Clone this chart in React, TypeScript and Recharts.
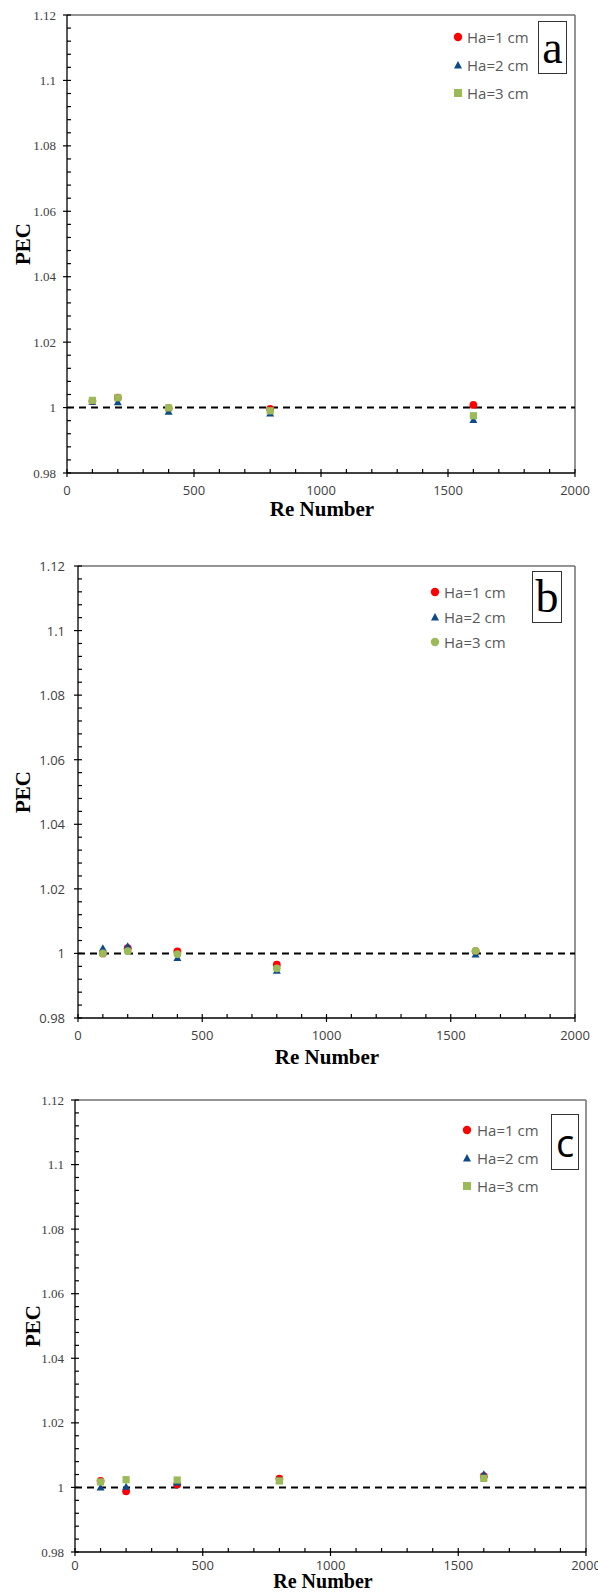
import React from 'react';
import { ScatterChart, Scatter, XAxis, YAxis, ReferenceLine } from 'recharts';

const RE_NUMBERS = [100, 200, 400, 800, 1600];

const A_HA1 = [1.002, 1.003, 0.9998, 0.9996, 1.0008];
const A_HA2 = [1.0018, 1.0016, 0.9987, 0.9982, 0.9962];
const A_HA3 = [1.0022, 1.003, 0.9999, 0.999, 0.9975];

const B_HA1 = [1.0, 1.0016, 1.0006, 0.9965, 1.0007];
const B_HA2 = [1.0016, 1.0022, 0.9986, 0.9946, 0.9997];
const B_HA3 = [1.0, 1.0007, 0.9998, 0.9954, 1.0008];

const C_HA1 = [1.002, 0.9988, 1.0009, 1.0027, 1.0035];
const C_HA2 = [1.0, 1.0002, 1.0015, 1.0022, 1.0041];
const C_HA3 = [1.0017, 1.0024, 1.0023, 1.002, 1.0028];

const Y_MAJOR_TICKS = [0.98, 1, 1.02, 1.04, 1.06, 1.08, 1.1, 1.12];
const X_MAJOR_TICKS = [0, 500, 1000, 1500, 2000];
const SERIES_NAMES = ['Ha=1 cm', 'Ha=2 cm', 'Ha=3 cm'];
const COLORS = ['#FF0000', '#0D4A8A', '#9BBB59'];

const SERIF = '"Liberation Serif", "Times New Roman", serif';
const SANS = '"Open Sans", "Noto Sans", sans-serif';

function subdivide(majors: number[], parts: number): number[] {
  const out: number[] = [];
  for (let i = 0; i < majors.length; i++) {
    out.push(majors[i]);
    if (i < majors.length - 1) {
      for (let k = 1; k < parts; k++) {
        out.push(+(majors[i] + ((majors[i + 1] - majors[i]) * k) / parts).toFixed(6));
      }
    }
  }
  return out;
}

const Y_ALL_TICKS = subdivide(Y_MAJOR_TICKS, 5);
const X_ALL_TICKS = subdivide(X_MAJOR_TICKS, 5);

const isMajor = (list: number[], v: number) => list.some((m) => Math.abs(m - v) < 1e-9);
const fmt = (v: number) => String(Number(v.toFixed(2)));

function makeYTick(font: string, fontSize: number, gap: number) {
  return (props: any) => {
    const { x, y, payload } = props;
    const v = payload.value;
    const major = isMajor(Y_MAJOR_TICKS, v);
    return (
      <g>
        {major ? (
          <line x1={x - 4} x2={x + 4} y1={y} y2={y} stroke="#000" strokeWidth={1.2} />
        ) : (
          <line x1={x} x2={x + 4} y1={y} y2={y} stroke="#000" strokeWidth={1.2} />
        )}
        {major && (
          <text x={x - gap} y={y} textAnchor="end" dominantBaseline="central" fontFamily={font} fontSize={fontSize} fill="#404040">
            {fmt(v)}
          </text>
        )}
      </g>
    );
  };
}

function makeXTick(font: string, fontSize: number, dy: number) {
  return (props: any) => {
    const { x, y, payload } = props;
    const v = payload.value;
    const major = isMajor(X_MAJOR_TICKS, v);
    return (
      <g>
        {major ? (
          <line x1={x} x2={x} y1={y - 4} y2={y + 4} stroke="#000" strokeWidth={1.2} />
        ) : (
          <line x1={x} x2={x} y1={y - 4} y2={y} stroke="#000" strokeWidth={1.2} />
        )}
        {major && (
          <text x={x} y={y + dy} textAnchor="middle" dominantBaseline="central" fontFamily={font} fontSize={fontSize} fill="#404040">
            {String(v)}
          </text>
        )}
      </g>
    );
  };
}

type ShapeKind = 'circle' | 'triangle' | 'square';

function makeShape(kind: ShapeKind, color: string) {
  return (props: any) => {
    const { cx, cy } = props;
    if (kind === 'circle') return <circle cx={cx} cy={cy} r={3.9} fill={color} />;
    if (kind === 'triangle')
      return <polygon points={`${cx},${cy - 4} ${cx + 4},${cy + 3} ${cx - 4},${cy + 3}`} fill={color} />;
    return <rect x={cx - 3.6} y={cy - 3.6} width={7.2} height={7.2} fill={color} />;
  };
}

function MarkerIcon({ kind, color }: { kind: ShapeKind; color: string }) {
  return (
    <svg width={10} height={10} style={{ position: 'absolute', left: -5, top: -5 }}>
      {kind === 'circle' && <circle cx={5} cy={5} r={4.2} fill={color} />}
      {kind === 'triangle' && <polygon points="5,1 9,8.5 1,8.5" fill={color} />}
      {kind === 'square' && <rect x={1} y={1} width={8} height={8} fill={color} />}
    </svg>
  );
}

interface PanelProps {
  top: number;
  height: number;
  margin: { top: number; right: number; bottom: number; left: number };
  series: number[][];
  shapes: ShapeKind[];
  yFont: string;
  yGap: number;
  xDy: number;
  legend: { markerX: number; textX: number; y0: number; dy: number };
  box: { left: number; top: number; width: number; height: number; letter: string; font: string; size: number; weight: number };
  pec: { x: number; y: number };
  reLabel: { x: number; y: number; size: number };
}

function Panel(p: PanelProps) {
  const datasets = p.series.map((vals) => RE_NUMBERS.map((x, i) => ({ x, y: vals[i] })));
  return (
    <div style={{ position: 'absolute', left: 0, top: p.top, width: 598, height: p.height }}>
      <ScatterChart width={598} height={p.height} margin={p.margin}>
        <XAxis
          type="number"
          dataKey="x"
          domain={[0, 2000]}
          ticks={X_ALL_TICKS}
          interval={0}
          tickSize={0}
          tickMargin={0}
          tickLine={false}
          height={30}
          axisLine={{ stroke: '#000', strokeWidth: 1.3 }}
          tick={makeXTick(SANS, 13, p.xDy)}
          allowDataOverflow
        />
        <YAxis
          type="number"
          dataKey="y"
          domain={[0.98, 1.12]}
          ticks={Y_ALL_TICKS}
          interval={0}
          tickSize={0}
          tickMargin={0}
          tickLine={false}
          width={60}
          axisLine={{ stroke: '#000', strokeWidth: 1.3 }}
          tick={makeYTick(p.yFont, 13, p.yGap)}
          allowDataOverflow
        />
        <ReferenceLine y={1.12} stroke="#707070" strokeWidth={1.5} />
        <ReferenceLine x={2000} stroke="#707070" strokeWidth={1.5} />
        <ReferenceLine y={1} stroke="#000" strokeWidth={2} strokeDasharray="7 5" />
        {datasets.map((d, i) => (
          <Scatter
            key={i}
            name={SERIES_NAMES[i]}
            data={d}
            fill={COLORS[i]}
            shape={makeShape(p.shapes[i], COLORS[i])}
            isAnimationActive={false}
          />
        ))}
      </ScatterChart>
      {SERIES_NAMES.map((name, i) => (
        <div key={name}>
          <div style={{ position: 'absolute', left: p.legend.markerX, top: p.legend.y0 + i * p.legend.dy - p.top }}>
            <MarkerIcon kind={p.shapes[i]} color={COLORS[i]} />
          </div>
          <div
            style={{
              position: 'absolute',
              left: p.legend.textX,
              top: p.legend.y0 + i * p.legend.dy - p.top - 11,
              height: 22,
              lineHeight: '22px',
              fontFamily: SANS,
              fontSize: 15,
              color: '#595959',
              whiteSpace: 'nowrap',
            }}
          >
            {name}
          </div>
        </div>
      ))}
      <div
        style={{
          position: 'absolute',
          left: p.box.left,
          top: p.box.top - p.top,
          width: p.box.width,
          height: p.box.height,
          boxSizing: 'border-box',
          border: '1.5px solid #333',
          display: 'flex',
          alignItems: 'center',
          justifyContent: 'center',
          fontFamily: p.box.font,
          fontSize: p.box.size,
          fontWeight: p.box.weight,
          lineHeight: 1,
          color: '#000',
          background: '#fff',
        }}
      >
        {p.box.letter}
      </div>
      <div
        style={{
          position: 'absolute',
          left: p.pec.x - 40,
          top: p.pec.y - p.top - 12,
          width: 80,
          height: 24,
          lineHeight: '24px',
          textAlign: 'center',
          transform: 'rotate(-90deg)',
          fontFamily: SERIF,
          fontWeight: 700,
          fontSize: 21,
          color: '#000',
        }}
      >
        PEC
      </div>
      <div
        style={{
          position: 'absolute',
          left: p.reLabel.x - 80,
          top: p.reLabel.y - p.top - 9,
          width: 160,
          height: 18,
          lineHeight: '18px',
          textAlign: 'center',
          fontFamily: SERIF,
          fontWeight: 700,
          fontSize: p.reLabel.size,
          color: '#000',
        }}
      >
        Re Number
      </div>
    </div>
  );
}

export default function App() {
  return (
    <div style={{ position: 'absolute', left: 0, top: 0, width: 598, height: 1593, background: '#fff', overflow: 'hidden' }}>
      <Panel
        top={0}
        height={520}
        margin={{ top: 15, right: 23, bottom: 17, left: 7 }}
        series={[A_HA1, A_HA2, A_HA3]}
        shapes={['circle', 'triangle', 'square']}
        yFont={SERIF}
        yGap={11}
        xDy={17}
        legend={{ markerX: 458, textX: 467, y0: 37, dy: 28 }}
        box={{ left: 538, top: 21, width: 29, height: 53, letter: 'a', font: SERIF, size: 46, weight: 400 }}
        pec={{ x: 23, y: 244 }}
        reLabel={{ x: 322, y: 509, size: 21 }}
      />
      <Panel
        top={520}
        height={540}
        margin={{ top: 46, right: 23, bottom: 12, left: 18 }}
        series={[B_HA1, B_HA2, B_HA3]}
        shapes={['circle', 'triangle', 'circle']}
        yFont={SANS}
        yGap={13}
        xDy={17}
        legend={{ markerX: 435, textX: 444, y0: 592, dy: 25 }}
        box={{ left: 532, top: 571, width: 30, height: 52, letter: 'b', font: SERIF, size: 46, weight: 400 }}
        pec={{ x: 23, y: 792 }}
        reLabel={{ x: 327, y: 1057, size: 21 }}
      />
      <Panel
        top={1060}
        height={533}
        margin={{ top: 40, right: 12, bottom: 11, left: 15 }}
        series={[C_HA1, C_HA2, C_HA3]}
        shapes={['circle', 'triangle', 'square']}
        yFont={SERIF}
        yGap={11}
        xDy={13}
        legend={{ markerX: 467, textX: 477, y0: 1130, dy: 28 }}
        box={{ left: 551, top: 1114, width: 28, height: 56, letter: 'c', font: SANS, size: 38, weight: 400 }}
        pec={{ x: 33, y: 1326 }}
        reLabel={{ x: 323, y: 1581, size: 20 }}
      />
    </div>
  );
}
